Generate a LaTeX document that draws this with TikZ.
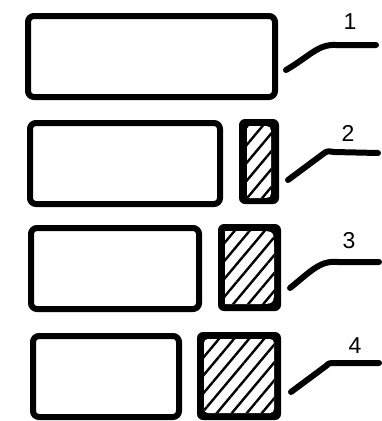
\documentclass[tikz,border=0pt]{standalone}
\usepackage{fontspec}
\setmainfont{Liberation Sans}
\usetikzlibrary{patterns.meta}

\tikzset{
  box/.style={line width=6pt, rounded corners=6pt},
  solid/.style={fill=black, rounded corners=6pt},
  hatch/.style={pattern={Lines[angle=50, distance=11.5pt, line width=2.4pt]}},
  leader/.style={line width=6pt, line cap=round, line join=round},
  numlabel/.style={font=\fontsize{23}{23}\selectfont, inner sep=0pt}
}

\begin{document}
\begin{tikzpicture}[x=1pt, y=-1pt]
    \useasboundingbox (0,0) rectangle (381,421);

    % Row 1: plain box
    \draw[box] (28,16) rectangle (275,97);
    \node[numlabel] (n1) at (350,22) {1};
    \coordinate (a1) at (286,70);
    \coordinate (b1) at (376,45);
    \draw[leader] (a1) .. controls (310,56) and (318,44) .. (336,45) -- (b1);

    % Row 2: box with thin hatched strip
    \draw[box] (30,123) rectangle (220,204);
    \fill[solid] (239,119) rectangle (279,204);
    \path[fill=white] (247,126) -- (261,126) .. controls (271,126) .. (271,136) -- (271,188) .. controls (271,198) .. (261,198) -- (247,198) -- cycle;
    \path[hatch] (247,126) -- (261,126) .. controls (271,126) .. (271,136) -- (271,188) .. controls (271,198) .. (261,198) -- (247,198) -- cycle;
    \node[numlabel] (n2) at (348,133) {2};
    \coordinate (a2) at (288,180);
    \coordinate (b2) at (378,153);
    \draw[leader] (a2) -- (323,154) .. controls (327,151) .. (334,152) -- (b2);

    % Row 3: box with wider hatched strip
    \draw[box] (31,228) rectangle (199,309);
    \fill[solid] (218,224) rectangle (281,311);
    \path[fill=white] (225,231) -- (258,231) .. controls (274,231) .. (274,247) -- (274,288) .. controls (274,304) .. (258,304) -- (225,304) -- cycle;
    \path[hatch] (225,231) -- (258,231) .. controls (274,231) .. (274,247) -- (274,288) .. controls (274,304) .. (258,304) -- (225,304) -- cycle;
    \node[numlabel] (n3) at (349,241) {3};
    \coordinate (a3) at (290,288);
    \coordinate (b3) at (379,262);
    \draw[leader] (a3) .. controls (310,272) and (320,260) .. (338,262) -- (b3);

    % Row 4: box with square hatched part
    \draw[box] (33,336) rectangle (179,417);
    \fill[solid] (197,332) rectangle (281,420);
    \path[fill=white, rounded corners=4pt] (204,339) rectangle (274,413);
    \path[hatch, rounded corners=4pt] (204,339) rectangle (274,413);
    \node[numlabel] (n4) at (355,346) {4};
    \coordinate (a4) at (291,392);
    \coordinate (b4) at (379,363);
    \draw[leader] (a4) -- (326,366) .. controls (329,363) .. (336,363) -- (b4);
\end{tikzpicture}
\end{document}
